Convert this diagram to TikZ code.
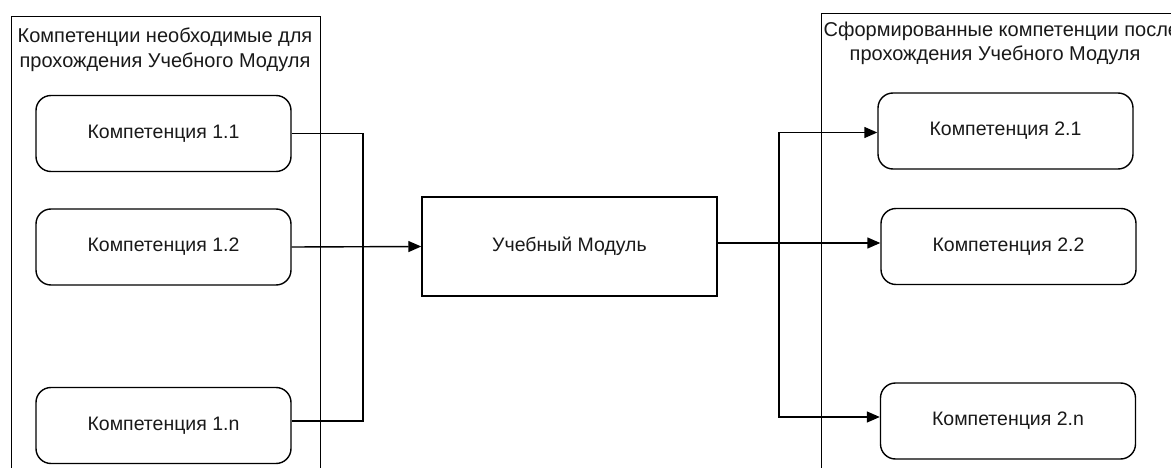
\documentclass[tikz,border=0pt]{standalone}
\usepackage{fontspec}
\setmainfont{Liberation Sans}
\usetikzlibrary{arrows.meta}
\begin{document}
\begin{tikzpicture}[x=1pt,y=-1pt,line width=1.4pt,
  every node/.style={font=\fontsize{19.5}{24}\selectfont, text=black!90},
  grp/.style={draw, rectangle, anchor=north west, inner sep=0},
  comp/.style={draw, rectangle, rounded corners=15pt, minimum width=255pt, minimum height=76pt, inner sep=0},
  modbox/.style={draw, rectangle, minimum width=295pt, minimum height=99pt, inner sep=0},
  ttl/.style={inner sep=0, font=\fontsize{20}{24.5}\selectfont},
  arr/.style={-{Triangle[length=13pt,width=11pt]}}]
\useasboundingbox (0,0) rectangle (1171,468);
\clip (0,0) rectangle (1171,468);
\fill[white] (0,0) rectangle (1171,468);
% groups
\node[grp, minimum width=309pt, minimum height=480pt] (lg) at (11,16) {};
\node[ttl, align=center] (lgt) at (165,49.5) {Компетенции необходимые для\\прохождения Учебного Модуля};
\node[grp, minimum width=400pt, minimum height=480pt] (rg) at (821,13) {};
\node[ttl, align=left, anchor=west] (rgt) at (823,43.5) {Сформированные компетенции после\\\hspace*{26pt}прохождения Учебного Модуля};
% left nodes
\node[comp] (n11) at (163.5,133.5) {Компетенция 1.1};
\node[comp] (n12) at (163.5,247) {Компетенция 1.2};
\node[comp] (n1n) at (163.5,425.5) {Компетенция 1.n};
% module
\node[modbox] (mod) at (569.5,246.5) {Учебный Модуль};
% right nodes
\node[comp] (n21) at (1005.5,131) {Компетенция 2.1};
\node[comp] (n22) at (1008.5,246.5) {Компетенция 2.2};
\node[comp] (n2n) at (1008,421) {Компетенция 2.n};
% connectors
\coordinate (jl) at (363,0);
\coordinate (jr) at (779,0);
\coordinate (o1n) at ([yshift=4.5pt]n1n.east);
\draw (n11.east) -| (jl |- o1n) -- (o1n);
\draw[arr] (n12.east) -- (mod.west);
\coordinate (om) at ([yshift=3.5pt]mod.east);
\draw[arr] (om) -- (om -| n22.west);
\coordinate (i2n) at ([yshift=4pt]n2n.west);
\draw[arr] (jr |- om) |- ([yshift=-1.5pt]n21.west);
\draw[arr] (jr |- om) |- (i2n);
\end{tikzpicture}
\end{document}
